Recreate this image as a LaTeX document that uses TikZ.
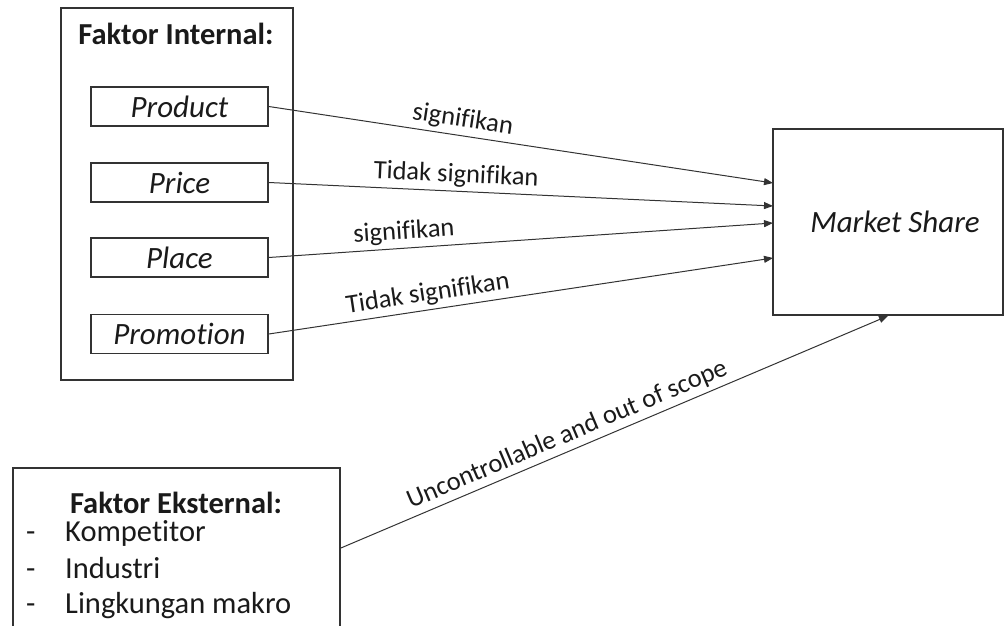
\documentclass[tikz,border=0pt]{standalone}
\usepackage{fontspec}
\setmainfont{Carlito}[Ligatures={NoCommon}]
\usetikzlibrary{arrows.meta}
\definecolor{ink}{HTML}{333333}
\definecolor{txt}{HTML}{1A1A1A}
\begin{document}
\begin{tikzpicture}[x=1pt,y=-1pt,
  frame/.style={draw=ink,line width=1.8pt,inner sep=0pt},
  item/.style={draw=ink,line width=1.6pt,minimum width=177pt,minimum height=39pt,
    inner sep=0pt,text=txt,font=\itshape\fontsize{31}{36}\selectfont},
  heading/.style={text=txt,font=\bfseries\fontsize{30.5}{36}\selectfont,inner sep=0pt},
  plain/.style={text=txt,font=\fontsize{30.5}{36}\selectfont,inner sep=0pt,anchor=base west},
  link/.style={draw=ink,line width=1pt,-{Triangle[length=9pt,width=7pt]}},
  lab/.style={text=txt,font=\fontsize{26.5}{31}\selectfont,sloped,above=3pt,inner sep=1pt},
]
\useasboundingbox (0,0) rectangle (1005,626);
\clip (0,0) rectangle (1005,626);

% internal factors
\node[frame,minimum width=232pt,minimum height=372pt] (internal) at (177,194) {};
\node[heading,anchor=base] (inttitle) at (176,45) {Faktor Internal:};
\node[item] (product) at (179.5,106.5) {Product};
\node[item] (price) at (179.5,182.5) {Price};
\node[item] (place) at (179.5,257.5) {Place};
\node[item] (promotion) at (179.5,334) {Promotion};

% dependent variable
\node[frame,minimum width=230pt,minimum height=186pt] (ms) at (888,222) {};
\node[text=txt,inner sep=0pt,font=\itshape\fontsize{31}{36}\selectfont]
  (mslabel) at (895,222) {Market Share};
\coordinate (in1) at (773,183);
\coordinate (in2) at (773,206);
\coordinate (in3) at (773,223);
\coordinate (in4) at (773,258);

% external factors
\node[frame,minimum width=327pt,minimum height=160pt] (external) at (176.5,548) {};
\node[heading,anchor=base] (exttitle) at (176,513) {Faktor Eksternal:};
\node[plain] (d1) at (26,541) {-};
\node[plain] (e1) at (65,541) {Kompetitor};
\node[plain] (d2) at (26,578) {-};
\node[plain] (e2) at (65,578) {Industri};
\node[plain] (d3) at (26,613) {-};
\node[plain] (e3) at (65,613) {Lingkungan makro};

% relations
\draw[link] (product.east) -- node[lab,pos=0.38] {signifikan} (in1);
\draw[link] (price.east) -- node[lab,pos=0.37] {Tidak signifikan} (in2);
\draw[link] (place.east) -- node[lab,pos=0.27] {signifikan} (in3);
\draw[link] (promotion.east) -- node[lab,pos=0.32] {Tidak signifikan} (in4);
\draw[link] (external.east) -- node[lab,pos=0.425] {Uncontrollable and out of scope} (ms.south);
\end{tikzpicture}
\end{document}
